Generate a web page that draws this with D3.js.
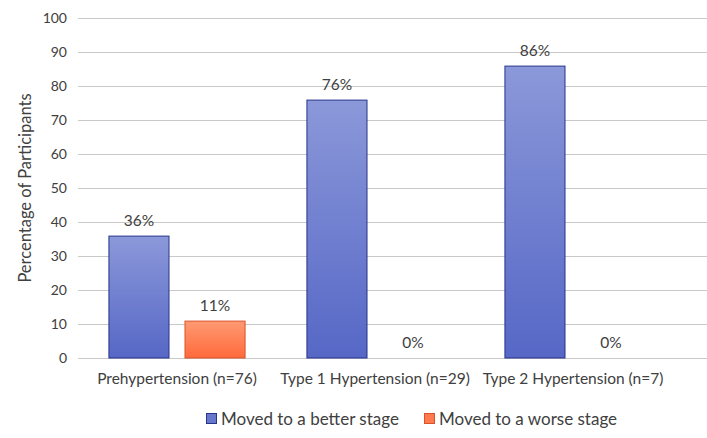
<!DOCTYPE html>
<html><head><meta charset="utf-8">
<script src="https://cdn.jsdelivr.net/npm/d3@7"></script>
<style>body{margin:0;background:#fff;} text{font-family:Lato,"Open Sans",sans-serif;}</style>
</head><body><svg id="c" width="707" height="438"></svg>
<script>
const categories = ["Prehypertension (n=76)", "Type 1 Hypertension (n=29)", "Type 2 Hypertension (n=7)"];
const seriesNames = ["Moved to a better stage", "Moved to a worse stage"];
const better = [36, 76, 86];
const worse = [11, 0, 0];
const yTicks = [0, 10, 20, 30, 40, 50, 60, 70, 80, 90, 100];
const yTitle = "Percentage of Participants";

const W = 707, H = 438;
const svg = d3.select("#c");
const pLeft = 78, pRight = 672, pTop = 18, pBottom = 358;

const defs = svg.append("defs");
function grad(id, c1, c2) {
  const g = defs.append("linearGradient").attr("id", id).attr("x1", 0).attr("y1", 0).attr("x2", 0).attr("y2", 1);
  g.append("stop").attr("offset", "0%").attr("stop-color", c1);
  g.append("stop").attr("offset", "100%").attr("stop-color", c2);
}
grad("gB", "#8b98d9", "#5667c6");
grad("gO", "#ff9a72", "#ff6a3c");
const fills = ["url(#gB)", "url(#gO)"];
const strokes = ["#26348a", "#d9532a"];
const legendFills = ["#6677cc", "#ff7a4e"];

const x = d3.scaleBand().domain(categories).range([pLeft, pRight]).paddingInner(0).paddingOuter(0);
const xs = d3.scaleBand().domain(seriesNames).range([0, x.bandwidth()]).paddingInner(0.197).paddingOuter(0.4);
const y = d3.scaleLinear().domain([0, 100]).range([pBottom, pTop]);

// gridlines
svg.append("g").selectAll("line").data(yTicks).join("line")
  .attr("x1", pLeft).attr("x2", W).attr("y1", d => y(d)).attr("y2", d => y(d))
  .attr("stroke", "#c9c9c9").attr("stroke-width", 1).attr("shape-rendering", "crispEdges");

// y axis labels
const yAxis = d3.axisLeft(y).tickValues(yTicks).tickSize(0).tickPadding(11);
const ga = svg.append("g").attr("transform", `translate(${pLeft},0)`).call(yAxis);
ga.select(".domain").remove();
ga.selectAll("text").attr("font-size", 14).attr("fill", "#404040").attr("font-family", "Lato, 'Open Sans', sans-serif");

// x axis labels
const xAxis = d3.axisBottom(x).tickSize(0).tickPadding(15);
const gx = svg.append("g").attr("transform", `translate(0,${pBottom})`).call(xAxis);
gx.select(".domain").remove();
gx.selectAll("text").attr("font-size", 15.5).attr("fill", "#404040").attr("font-family", "Lato, 'Open Sans', sans-serif");

// bars
const data = [];
categories.forEach((c, i) => {
  data.push({c, s: seriesNames[0], v: better[i], k: 0});
  data.push({c, s: seriesNames[1], v: worse[i], k: 1});
});
svg.append("g").selectAll("rect").data(data.filter(d => d.v > 0)).join("rect")
  .attr("x", d => x(d.c) + xs(d.s) + 0.5)
  .attr("y", d => y(d.v) + 0.5)
  .attr("width", xs.bandwidth() - 1)
  .attr("height", d => y(0) - y(d.v) - 0.5)
  .attr("fill", d => fills[d.k])
  .attr("stroke", d => strokes[d.k]).attr("stroke-width", 1);

svg.append("g").selectAll("text").data(data).join("text")
  .attr("x", d => x(d.c) + xs(d.s) + xs.bandwidth() / 2)
  .attr("y", d => y(d.v) - 10)
  .attr("text-anchor", "middle").attr("font-size", 15.5).attr("fill", "#404040")
  .text(d => d.v + "%");

// y title
svg.append("text").attr("transform", `translate(31,${(pTop + pBottom) / 2}) rotate(-90)`)
  .attr("text-anchor", "middle").attr("font-size", 16.5).attr("fill", "#404040").text(yTitle);

// legend
const lg = svg.append("g").attr("transform", "translate(206,413)");
const lx = [0, 218];
seriesNames.forEach((s, i) => {
  lg.append("rect").attr("x", lx[i] + 0.5).attr("y", 0.5).attr("width", 10).attr("height", 10)
    .attr("fill", legendFills[i]).attr("stroke", strokes[i]).attr("stroke-width", 1);
  lg.append("text").attr("x", lx[i] + 15).attr("y", 12).attr("font-size", 17).attr("fill", "#404040").text(s);
});
</script></body></html>
